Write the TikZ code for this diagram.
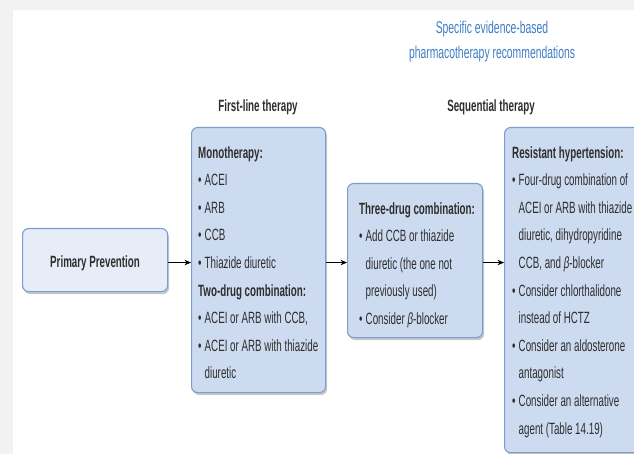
\documentclass[tikz,border=0pt]{standalone}
\usepackage{fontspec}
\setmainfont{Liberation Sans}
\newfontfamily\cf[FakeStretch=0.6]{Liberation Sans}
\newfontfamily\tf[FakeStretch=0.61]{Liberation Sans}
\usetikzlibrary{shadows,arrows.meta}
\definecolor{bord}{HTML}{7C9DD0}
\definecolor{fillA}{HTML}{CDDBF0}
\definecolor{fillB}{HTML}{E6EDF8}
\definecolor{txt}{HTML}{2E2E2E}
\definecolor{ttl}{HTML}{3F7DC4}
\definecolor{bgg}{HTML}{F2F2F2}
\newcommand\bu{\makebox[6.5pt][l]{•}}
\newcommand\ind{\hspace*{6.5pt}}
\begin{document}
\begin{tikzpicture}[x=1pt,y=-1pt,
  box/.style={draw=bord, line width=1.1pt, rounded corners=6pt, fill=fillA,
    anchor=north west, inner sep=0pt,
    drop shadow={shadow xshift=1.5pt, shadow yshift=-2.5pt, fill=black, opacity=0.22}},
  body/.style={anchor=north west, inner sep=0pt, align=left, text=txt,
    font=\cf\fontsize{16.3}{27.6}\selectfont},
  lbl/.style={anchor=base, inner sep=0pt, text=txt, font=\cf\bfseries\fontsize{16.3}{18}\selectfont},
  ttlstyle/.style={anchor=north, inner sep=0pt, text=ttl, align=center, font=\tf\fontsize{17}{25}\selectfont},
  arr/.style={-{Stealth[length=6.5pt,width=5.5pt]}, line width=0.9pt, black}]
\fill[bgg] (0,0) rectangle (634,454);
\fill[white] (13,10) rectangle (634,454);
\useasboundingbox (0,0) rectangle (634,454);

\node[ttlstyle] (title) at (492,21) {Specific evidence-based\\pharmacotherapy recommendations};
\node[lbl] (first) at (258,112) {First-line therapy};
\node[lbl] (seq) at (491,112) {Sequential therapy};

\node[box, fill=fillB, minimum width=145pt, minimum height=63pt] (b1) at (22,228) {};
\node[lbl, yshift=-7.5pt] (t1) at (b1.center) {Primary Prevention};

\node[box, minimum width=134pt, minimum height=265pt] (b2) at (191,127) {};
\node[body] (t2) at (198,146) {%
\textbf{Monotherapy:}\\
\bu ACEI\\
\bu ARB\\
\bu CCB\\
\bu Thiazide diuretic\\
\textbf{Two-drug combination:}\\
\bu ACEI or ARB with CCB,\\
\bu ACEI or ARB with thiazide\\
\ind diuretic};

\node[box, minimum width=135pt, minimum height=154pt] (b3) at (347,183) {};
\node[body] (t3) at (359,202) {%
\textbf{Three-drug combination:}\\
\bu Add CCB or thiazide\\
\ind diuretic (the one not\\
\ind previously used)\\
\bu Consider \textit{β}-blocker};

\node[box, minimum width=146pt, minimum height=325pt] (b4) at (504,127) {};
\node[body] (t4) at (512,146) {%
\textbf{Resistant hypertension:}\\
\bu Four-drug combination of\\
\ind ACEI or ARB with thiazide\\
\ind diuretic, dihydropyridine\\
\ind CCB, and \textit{β}-blocker\\
\bu Consider chlorthalidone\\
\ind instead of HCTZ\\
\bu Consider an aldosterone\\
\ind antagonist\\
\bu Consider an alternative\\
\ind agent (Table 14.19)};

\draw[arr] ([yshift=-2.5pt]b1.east) -- ([yshift=-2.5pt]b1.east -| b2.west);
\draw[arr] ([yshift=-2.5pt]b2.east) -- ([yshift=-2.5pt]b2.east -| b3.west);
\draw[arr] ([yshift=-2pt]b3.east) -- ([yshift=-2pt]b3.east -| b4.west);
\end{tikzpicture}
\end{document}
